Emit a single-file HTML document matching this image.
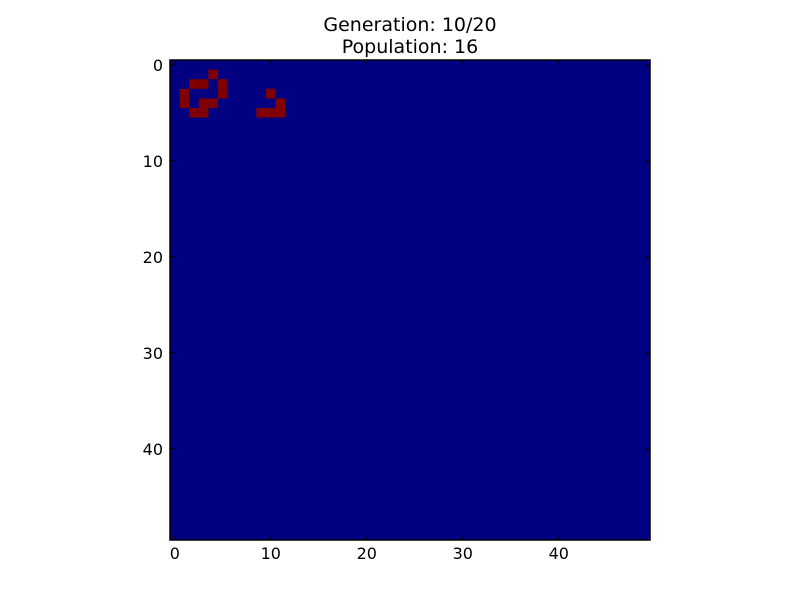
<!DOCTYPE html>
<html><head><meta charset="utf-8"><style>
body{margin:0;background:#fff;width:800px;height:600px;overflow:hidden;font-family:"Liberation Sans","DejaVu Sans",sans-serif}
</style></head><body>
<svg id="chart" width="800" height="600" xmlns="http://www.w3.org/2000/svg">
<text x="410" y="31" font-size="19" text-anchor="middle" font-family="DejaVu Sans, sans-serif">Generation: 10/20</text>
<text x="410" y="53" font-size="19" text-anchor="middle" font-family="DejaVu Sans, sans-serif">Population: 16</text>
<rect x="170" y="60" width="480" height="480" fill="#000080"/>
<g id="cells"></g>
<g id="ticks"></g>
<rect x="170" y="60" width="480" height="480" fill="none" stroke="#000" stroke-width="1.5"/>
</svg>
<script>
const gridSize = 50;
const aliveRows = [1,2,2,2,3,3,4,4,4,5,5,3,4,5,5,5];
const aliveCols = [4,2,3,5,1,5,1,3,4,2,3,10,11,9,10,11];
const tickValues = [0,10,20,30,40];
const tickLabels = ["0","10","20","30","40"];
const X0=170, Y0=60, W=480;
const cs = W/gridSize;
function xPos(c){return X0 + c*cs;}
function yPos(r){return Y0 + r*cs;}
const ns="http://www.w3.org/2000/svg";
const cg=document.getElementById('cells');
for(let i=0;i<aliveRows.length;i++){
  const r=document.createElementNS(ns,'rect');
  r.setAttribute('x',xPos(aliveCols[i]));r.setAttribute('y',yPos(aliveRows[i]));
  r.setAttribute('width',cs);r.setAttribute('height',cs);r.setAttribute('fill','#800000');
  
  
  cg.appendChild(r);
}
const tg=document.getElementById('ticks');
function ln(x1,y1,x2,y2){const l=document.createElementNS(ns,'line');l.setAttribute('x1',x1);l.setAttribute('y1',y1);l.setAttribute('x2',x2);l.setAttribute('y2',y2);l.setAttribute('stroke','#000');l.setAttribute('stroke-width','1');


tg.appendChild(l);}
tickValues.forEach((v,i)=>{
  const x=xPos(v+0.5), y=yPos(v+0.5);
  ln(x,540,x,535);ln(x,60,x,65);
  ln(170,y,175,y);ln(650,y,645,y);
  const tx=document.createElementNS(ns,'text');
  tx.setAttribute('x',x);tx.setAttribute('y',559);tx.setAttribute('font-size','16');tx.setAttribute('text-anchor','middle');tx.setAttribute('font-family','DejaVu Sans, sans-serif');
  tx.textContent=tickLabels[i];
  
  
  tg.appendChild(tx);
  const ty=document.createElementNS(ns,'text');
  ty.setAttribute('x',163);ty.setAttribute('y',y+6);ty.setAttribute('font-size','16');ty.setAttribute('text-anchor','end');ty.setAttribute('font-family','DejaVu Sans, sans-serif');
  ty.textContent=tickLabels[i];
  
  
  tg.appendChild(ty);
});
</script>
</body></html>
